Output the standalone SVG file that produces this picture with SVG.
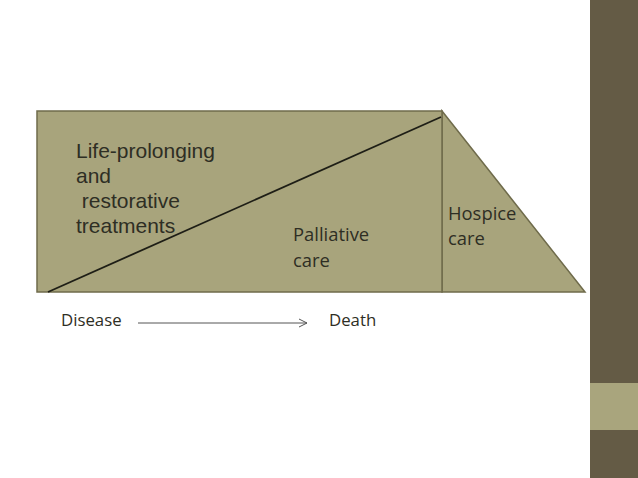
<svg xmlns="http://www.w3.org/2000/svg" width="638" height="478" viewBox="0 0 638 478">
<style>
.shape{fill:#A8A47C;stroke:#6F6B4B;stroke-width:1.5}
.t1{font-family:"Liberation Sans",Arial,sans-serif;font-size:21px;fill:#2E2E24}
.t2{font-family:"Open Sans","Noto Sans",sans-serif;font-size:18.4px;fill:#2E2E24}
.t3{font-family:"Open Sans","Noto Sans",sans-serif;font-size:16.8px;fill:#2E2E24}
</style>
<defs>
<marker id="arr" markerWidth="10" markerHeight="10" refX="9" refY="5" orient="auto" markerUnits="userSpaceOnUse">
<path d="M1,1 L9,5 L1,9" fill="none" stroke="#555" stroke-width="1"/>
</marker>
</defs>
<rect width="638" height="478" fill="#FFFFFF"/>
<rect x="590" y="0" width="48" height="478" fill="#645B45"/>
<rect x="590" y="383" width="48" height="47" fill="#A9A57D"/>
<g id="hospice">
<polygon class="shape" points="442,111 585,292 442,292"/>
<text class="t2" x="448" y="220">Hospice</text>
<text class="t2" x="448" y="245">care</text>
</g>
<g id="main">
<rect class="shape" x="37" y="111" width="405" height="181"/>
<text class="t1" x="76" y="158">Life-prolonging</text>
<text class="t1" x="76" y="183">and</text>
<text class="t1" x="76" y="208" xml:space="preserve"> restorative</text>
<text class="t1" x="76" y="233">treatments</text>
<text class="t2" x="293" y="241">Palliative</text>
<text class="t2" x="293" y="267">care</text>
</g>
<g id="connectors">
<line x1="48" y1="292" x2="441" y2="117" stroke="#1E1E16" stroke-width="1.8"/>
<line x1="138" y1="323" x2="307" y2="323" stroke="#555" stroke-width="1" marker-end="url(#arr)"/>
</g>
<g id="timeline">
<text class="t3" x="61" y="326">Disease</text>
<text class="t3" x="329" y="326">Death</text>
</g>
</svg>
